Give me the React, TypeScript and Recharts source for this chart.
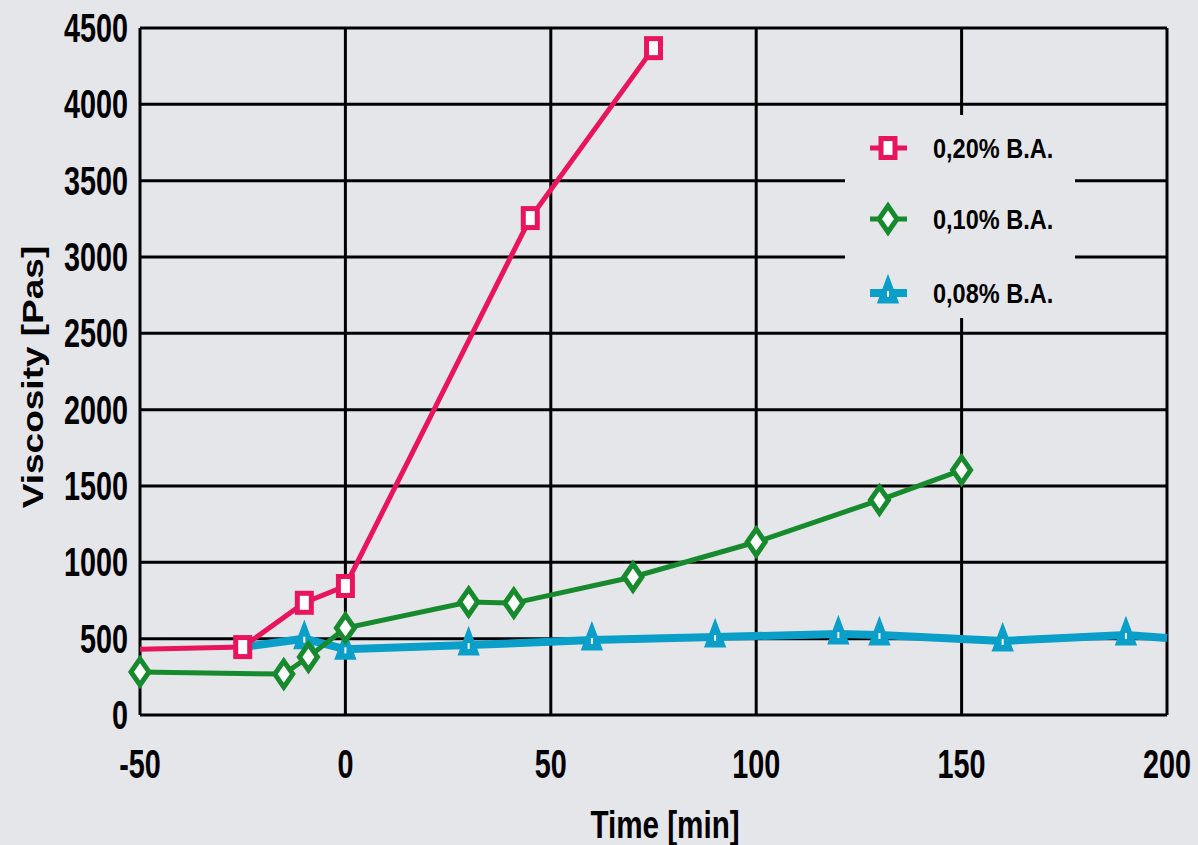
import { LineChart, Line, XAxis, YAxis, CartesianGrid } from "recharts";

const BG = "#e5e6ea";
const PINK = "#e8155c";
const GREEN = "#178a2e";
const CYAN = "#0a9fc8";
const FONT = "'Liberation Sans', Arial, sans-serif";

const xTicks = [-50, 0, 50, 100, 150, 200];
const yTicks = [0, 500, 1000, 1500, 2000, 2500, 3000, 3500, 4000, 4500];

// 0,20% B.A.
const timeHigh = [-50, -25, -10, 0, 45, 75];
const viscHigh = [430, 445, 735, 845, 3255, 4368];

// 0,10% B.A.
const timeMid = [-50, -15, -9, 0, 30, 41, 70, 100, 130, 150];
const viscMid = [282, 268, 380, 570, 740, 733, 904, 1133, 1408, 1604];

// 0,08% B.A.
const timeLow = [-25, -10, 0, 30, 60, 90, 120, 130, 160, 190, 200];
const viscLow = [445, 500, 430, 458, 491, 511, 530, 524, 485, 524, 504];

const seriesLabels = ["0,20% B.A.", "0,10% B.A.", "0,08% B.A."];

const toRows = (ts: number[], vs: number[]) => ts.map((t, i) => ({ t, v: vs[i] }));

const highData = toRows(timeHigh, viscHigh);
const midData = toRows(timeMid, viscMid);
const lowData = toRows(timeLow, viscLow);

function Square({ cx, cy }: { cx: number; cy: number }) {
  return <rect x={cx - 7} y={cy - 9.5} width={14} height={19} fill="#fff" stroke={PINK} strokeWidth={5} />;
}

function Diamond({ cx, cy }: { cx: number; cy: number }) {
  return (
    <polygon
      points={`${cx},${cy - 13} ${cx + 9},${cy} ${cx},${cy + 13} ${cx - 9},${cy}`}
      fill="#fff"
      stroke={GREEN}
      strokeWidth={5}
    />
  );
}

function Triangle({ cx, cy }: { cx: number; cy: number }) {
  return (
    <g>
      <polygon
        points={`${cx},${cy - 15} ${cx + 9},${cy + 9} ${cx - 9},${cy + 9}`}
        fill={CYAN}
        stroke={CYAN}
        strokeWidth={3}
      />
      <rect x={cx - 1} y={cy - 2} width={2} height={6} fill="#fff" />
    </g>
  );
}

const dotFor = (Shape: any, skip: (i: number, n: number) => boolean, n: number) =>
  (props: any) => {
    const { cx, cy, index } = props;
    if (skip(index, n) || cx == null) return <g key={`d${index}`} />;
    return <Shape key={`d${index}`} cx={cx} cy={cy} />;
  };

function XTick({ x, y, payload }: any) {
  return (
    <text
      transform={`translate(${x},${y + 63}) scale(0.72,1)`}
      textAnchor="middle"
      fontSize={40}
      fontWeight="bold"
      fontFamily={FONT}
      fill="#000"
    >
      {payload.value}
    </text>
  );
}

function YTick({ x, y, payload }: any) {
  return (
    <text
      transform={`translate(${x},${y + 14}) scale(0.72,1)`}
      textAnchor="end"
      fontSize={40}
      fontWeight="bold"
      fontFamily={FONT}
      fill="#000"
    >
      {payload.value}
    </text>
  );
}

function LegendBox() {
  const shapes = [Square, Diamond, Triangle];
  const colors = [PINK, GREEN, CYAN];
  const rows = [33, 104, 178];
  return (
    <div style={{ position: "absolute", left: 845, top: 115, width: 230, height: 203, background: BG }}>
      <svg width={230} height={203}>
        {seriesLabels.map((label, i) => {
          const S = shapes[i];
          return (
            <g key={label}>
              <line x1={25} x2={62} y1={rows[i]} y2={rows[i]} stroke={colors[i]} strokeWidth={i === 2 ? 8 : 5} />
              <S cx={43} cy={rows[i]} />
              <text
                transform={`translate(88,${rows[i] + 10}) scale(0.84,1)`}
                fontSize={28}
                fontWeight="bold"
                fontFamily={FONT}
                fill="#000"
              >
                {label}
              </text>
            </g>
          );
        })}
      </svg>
    </div>
  );
}

export default function App() {
  return (
    <div style={{ position: "relative", width: 1198, height: 845, background: BG, overflow: "hidden" }}>
      <style>{`body{margin:0;background:${BG}}`}</style>
      <LineChart width={1198} height={845} margin={{ top: 28, right: 31, left: 0, bottom: 0 }}>
        <CartesianGrid stroke="#000" strokeWidth={3} />
        <XAxis
          dataKey="t"
          type="number"
          domain={[-50, 200]}
          ticks={xTicks}
          height={130}
          tick={<XTick />}
          tickLine={false}
          tickSize={0}
          tickMargin={0}
          axisLine={false}
          allowDuplicatedCategory={false}
          label={{
            content: () => (
              <text
                transform="translate(665,838) scale(0.78,1)"
                textAnchor="middle"
                fontSize={38}
                fontWeight="bold"
                fontFamily={FONT}
                fill="#000"
              >
                Time [min]
              </text>
            ),
          }}
        />
        <YAxis
          type="number"
          domain={[0, 4500]}
          ticks={yTicks}
          width={140}
          tick={<YTick />}
          tickLine={false}
          tickSize={0}
          tickMargin={12}
          axisLine={false}
          label={{
            content: () => (
              <text
                transform="translate(43,377) scale(0.8,1) rotate(-90)"
                textAnchor="middle"
                fontSize={37}
                fontWeight="bold"
                fontFamily={FONT}
                fill="#000"
              >
                Viscosity [Pas]
              </text>
            ),
          }}
        />
        <Line
          data={lowData}
          dataKey="v"
          stroke={CYAN}
          strokeWidth={8}
          isAnimationActive={false}
          dot={dotFor(Triangle, (i, n) => i === 0 || i === n - 1, lowData.length)}
          activeDot={false}
        />
        <Line
          data={midData}
          dataKey="v"
          stroke={GREEN}
          strokeWidth={5}
          isAnimationActive={false}
          dot={dotFor(Diamond, () => false, midData.length)}
          activeDot={false}
        />
        <Line
          data={highData}
          dataKey="v"
          stroke={PINK}
          strokeWidth={5}
          isAnimationActive={false}
          dot={dotFor(Square, (i) => i === 0, highData.length)}
          activeDot={false}
        />
      </LineChart>
      <LegendBox />
    </div>
  );
}
